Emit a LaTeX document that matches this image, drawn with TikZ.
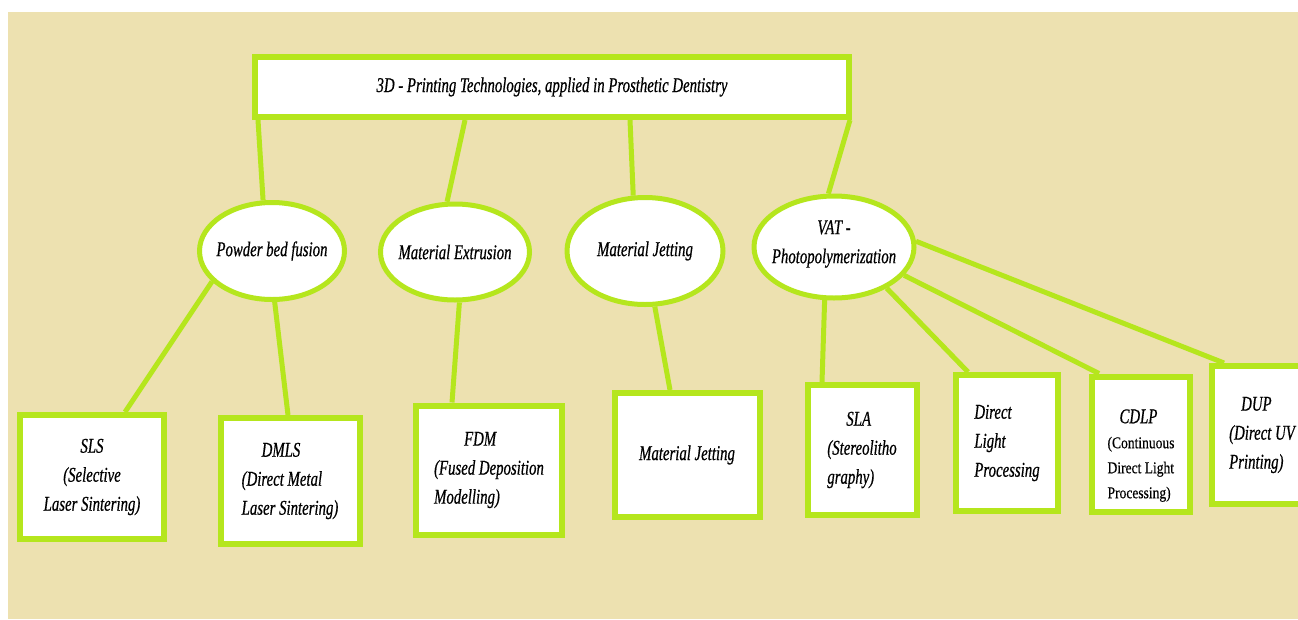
\documentclass[tikz,border=0pt]{standalone}
\usepackage{fontspec}
\setmainfont{Liberation Serif}[FakeStretch=0.705,FakeBold=0.6]
\newfontfamily\cdlpfont{Liberation Serif}[FakeStretch=0.82,FakeBold=0.4]
\usetikzlibrary{shapes.geometric}

\definecolor{verde}{HTML}{B5E61D}
\definecolor{sabbia}{RGB}{237,225,176}

\newcommand{\cdlpline}{\cdlpfont\upshape\fontsize{16.5}{25}\selectfont}

\begin{document}
\begin{tikzpicture}[x=1pt,y=-1pt,
    box/.style={draw=verde,line width=6pt,fill=white,align=left,
        font=\fontsize{21}{29}\selectfont\itshape},
    oval/.style={ellipse,draw=verde,line width=5pt,fill=white,inner sep=0pt},
    ovaltext/.style={align=center,font=\fontsize{21}{29}\selectfont\itshape},
    link/.style={verde,line width=5pt}]

    % Sfondo
    \useasboundingbox (0,0) rectangle (1298,619);
    \fill[white] (0,0) rectangle (1298,619);
    \fill[sabbia] (8,12) rectangle (1298,619);
    \clip (0,0) rectangle (1298,619);

    % Titolo
    \node[box,minimum width=594pt,minimum height=60pt] (title) at (552,87)
        {3D - Printing Technologies, applied in Prosthetic Dentistry};

    % Categorie
    \node[oval,minimum width=145pt,minimum height=97pt] (pbf) at (272,251) {};
    \node[ovaltext] at (pbf) {Powder bed fusion};
    \node[oval,minimum width=149pt,minimum height=96pt] (mex) at (455,252) {};
    \node[ovaltext] at (mex) {Material Extrusion};
    \node[oval,minimum width=156pt,minimum height=107pt] (mjet) at (645,251) {};
    \node[ovaltext] at (mjet) {Material Jetting};
    \node[oval,minimum width=160pt,minimum height=102pt] (vat) at (834,247) {};
    \node[ovaltext] at ([yshift=3pt]vat) {VAT -\\Photopolymerization};

    % Tecnologie
    \node[box,align=center,minimum width=144pt,minimum height=124pt] (sls) at (92,477)
        {SLS\\(Selective\\Laser Sintering)};
    \node[box,minimum width=139pt,minimum height=126pt] (dmls) at (290,481)
        {\hspace{20pt}DMLS\\(Direct Metal\\Laser Sintering)};
    \node[box,minimum width=146pt,minimum height=129pt] (fdm) at (489,470)
        {\hspace{30pt}FDM\\(Fused Deposition\\Modelling)};
    \node[box,minimum width=145pt,minimum height=124pt] (mjbox) at (687,455)
        {Material Jetting};
    \node[box,minimum width=109pt,minimum height=130pt] (sla) at (862,450)
        {\hspace{19pt}SLA\\(Stereolitho\\graphy)};
    \node[box,minimum width=102pt,minimum height=136pt] (dlp) at (1007,443)
        {Direct\\Light\\Processing};
    \node[box,minimum width=98pt,minimum height=135pt] (cdlp) at (1141,444)
        {\rule{0pt}{37pt}\hspace{12pt}CDLP\\[-4pt]\cdlpline(Continuous\\[-4pt]\cdlpline Direct Light\\[-4pt]\cdlpline Processing)};
    \node[box,minimum width=101pt,minimum height=138pt] (dup) at (1262,435)
        {\hspace{12pt}DUP\\(Direct UV\\Printing)};

    % Collegamenti
    \draw[link] ([xshift=-294pt]title.south) -- (pbf.100);
    \draw[link] ([xshift=-87pt]title.south) -- (mex.99);
    \draw[link] ([xshift=78pt]title.south) -- (mjet.102);
    \draw[link] ([xshift=298pt]title.south) -- (vat.96);

    \draw[link] (pbf.207) -- ([xshift=33pt]sls.north);
    \draw[link] (pbf.273) -- ([xshift=-2pt]dmls.north);
    \draw[link] (mex.275) -- ([xshift=-37pt]fdm.north);
    \draw[link] (mjet.280) -- ([xshift=-17pt]mjbox.north);
    \draw[link] (vat.260) -- ([xshift=-40pt]sla.north);
    \draw[link] (vat.322) -- ([xshift=-39pt]dlp.north);
    \draw[link] (vat.338) -- ([xshift=-42pt]cdlp.north);
    \draw[link] (vat.4) -- ([xshift=-38pt]dup.north);

\end{tikzpicture}
\end{document}
